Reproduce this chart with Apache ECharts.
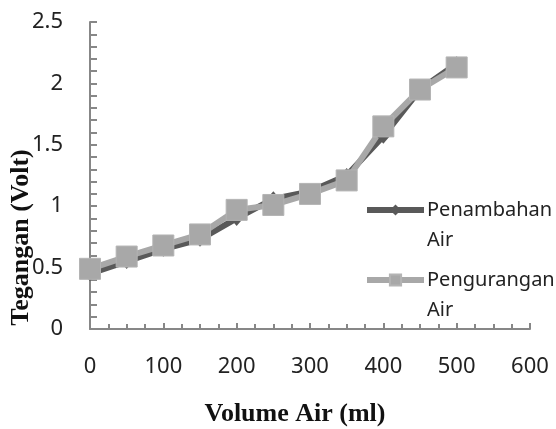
<!DOCTYPE html>
<html>
<head>
<meta charset="utf-8">
<script src="https://cdn.jsdelivr.net/npm/echarts@6/dist/echarts.min.js"></script>
<style>
  html, body { margin: 0; padding: 0; background: #fff; }
  #chart { width: 556px; height: 429px; }
</style>
</head>
<body>
<div id="chart"></div>
<script>
// volume air (ml) on x
const volume = [0, 50, 100, 150, 200, 250, 300, 350, 400, 450, 500];
// tegangan (Volt)
const penambahan = [0.45, 0.55, 0.65, 0.73, 0.90, 1.06, 1.12, 1.25, 1.57, 1.95, 2.16];
const pengurangan = [0.49, 0.59, 0.68, 0.77, 0.97, 1.01, 1.10, 1.21, 1.65, 1.95, 2.13];
const seriesNames = ['Penambahan\nAir', 'Pengurangan\nAir'];

function pairs(xs, ys) {
    return xs.map(function(x, i) { return [x, ys[i]]; });
}

var axisGray = '#878787';
var labelFont = {
    fontFamily: 'Noto Sans',
    fontSize: 22,
    color: '#222'
};

var option = {
    animation: false,
    backgroundColor: '#fff',
    grid: {
        left: 90,
        right: 26,
        top: 22,
        bottom: 100,
        outerBoundsMode: 'none'
    },
    legend: {
        orient: 'vertical',
        left: 364,
        top: 165,
        padding: 0,
        itemWidth: 57,
        itemHeight: 14,
        itemGap: -20,
        formatter: function(name) {
            // empty first line keeps the icon level with the first text line
            return '\n' + name;
        },
        lineStyle: { width: 6 },
        textStyle: {
            fontFamily: 'Noto Sans',
            fontSize: 20,
            color: '#222',
            lineHeight: 30,
            padding: [0, 0, 0, -2]
        },
        data: seriesNames
    },
    xAxis: {
        type: 'value',
        min: 0,
        max: 600,
        interval: 100,
        name: 'Volume Air (ml)',
        nameLocation: 'middle',
        nameGap: 72,
        nameMoveOverlap: false,
        nameTextStyle: {
            fontFamily: 'Liberation Serif',
            fontWeight: 'bold',
            fontSize: 26,
            color: '#111',
            padding: [0, 30, 0, 0]
        },
        axisLine: { lineStyle: { color: axisGray, width: 2 } },
        axisTick: { inside: true, length: 6, lineStyle: { color: axisGray, width: 2 } },
        minorTick: { show: true, splitNumber: 4, length: 5, lineStyle: { color: axisGray, width: 2 } },
        axisLabel: Object.assign({ margin: 27 }, labelFont),
        splitLine: { show: false }
    },
    yAxis: {
        type: 'value',
        min: 0,
        max: 2.5,
        interval: 0.5,
        name: 'Tegangan (Volt)',
        nameLocation: 'middle',
        nameGap: 56,
        nameMoveOverlap: false,
        nameRotate: 90,
        nameTextStyle: {
            fontFamily: 'Liberation Serif',
            fontWeight: 'bold',
            fontSize: 26,
            color: '#111',
            padding: [0, 124, 0, 0]
        },
        axisLine: { show: true, lineStyle: { color: axisGray, width: 2 } },
        axisTick: { show: true, inside: true, length: 7, lineStyle: { color: axisGray, width: 2 } },
        minorTick: { show: true, splitNumber: 5, length: 7, lineStyle: { color: axisGray, width: 2 } },
        axisLabel: Object.assign({ margin: 27 }, labelFont),
        splitLine: { show: false }
    },
    series: [{
        name: seriesNames[0],
        type: 'line',
        data: pairs(volume, penambahan),
        symbol: 'diamond',
        symbolSize: [13, 15],
        color: '#595959',
        lineStyle: { color: '#595959', width: 6 },
        itemStyle: { color: '#595959' }
    }, {
        name: seriesNames[1],
        type: 'line',
        data: pairs(volume, pengurangan),
        symbol: 'rect',
        symbolSize: 21,
        color: '#a8a8a8',
        lineStyle: { color: '#a8a8a8', width: 6 },
        itemStyle: { color: '#a8a8a8', borderColor: '#b4b4b4', borderWidth: 1 }
    }]
};

var chart = echarts.init(document.getElementById('chart'));
chart.setOption(option);
window.addEventListener('resize', function() {
    chart.resize();
});
</script>
</body>
</html>
